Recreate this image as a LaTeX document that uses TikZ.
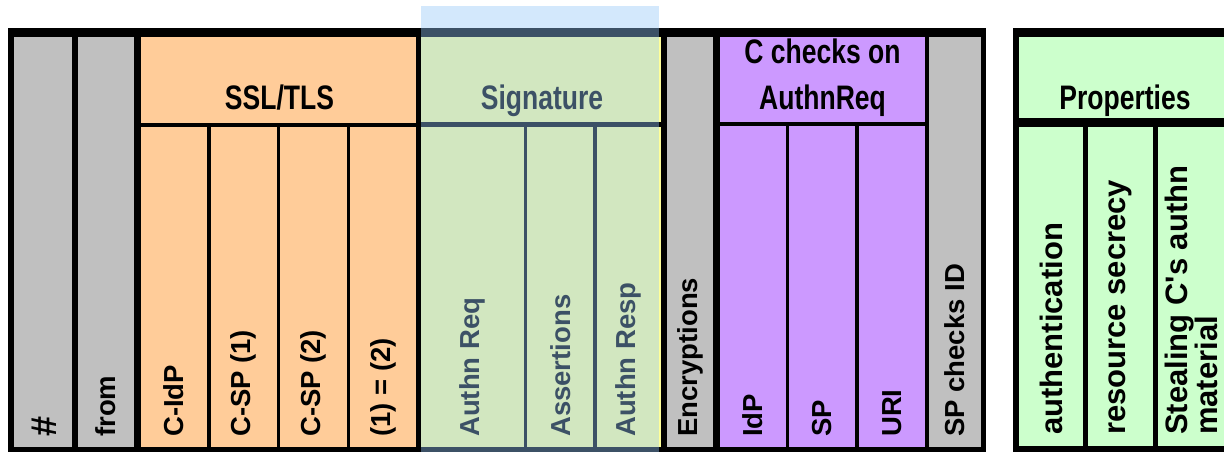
\documentclass[tikz,border=0pt]{standalone}
\usepackage{fontspec}
\setmainfont{Liberation Sans}
\newfontfamily\headfont[FakeStretch=0.78]{Liberation Sans}
\definecolor{cellgray}{RGB}{192,192,192}
\definecolor{sslorange}{RGB}{255,204,153}
\definecolor{sigyellow}{RGB}{255,255,153}
\definecolor{chkpurple}{RGB}{204,153,255}
\definecolor{propgreen}{RGB}{204,255,204}
\definecolor{selblue}{RGB}{148,199,248}
% a filled table cell: name, left, top, right, bottom, colour
\newcommand\tcell[6]{\node[cellbox, fill=#6, minimum width={#4-#2}, minimum height={#5-#3}] (#1) at (#2,#3) {};}
\begin{document}
\begin{tikzpicture}[x=1pt,y=-1pt,
  cellbox/.style={draw=none, inner sep=0pt, outer sep=0pt, anchor=north west},
  lab/.style={rotate=90, anchor=west, inner sep=0pt, font=\fontsize{27.5}{30}\selectfont\bfseries},
  plab/.style={lab, font=\fontsize{31}{25}\selectfont\bfseries},
  head/.style={anchor=base, inner sep=0pt, font=\headfont\fontsize{34}{40}\selectfont\bfseries}]
\useasboundingbox (0,0) rectangle (1224,452);

% black frames behind the cells: the gaps between cells form the rules
\tcell{frameA}{8.3}{28.3}{986.3}{452}{black}
\tcell{frameB}{1012.7}{28.3}{1224}{452}{black}

% left table
\tcell{hash}{14}{37.3}{72}{446.5}{cellgray}
\tcell{from}{78}{37.3}{134}{446.5}{cellgray}

\tcell{ssl}{141}{37.3}{415.5}{122.5}{sslorange}
\tcell{cidp}{141}{127}{207.3}{446.5}{sslorange}
\tcell{csp1}{210.7}{127}{277}{446.5}{sslorange}
\tcell{csp2}{280.3}{127}{347}{446.5}{sslorange}
\tcell{same}{350.3}{127}{415.5}{446.5}{sslorange}

\tcell{sig}{421}{37.3}{660.5}{122}{sigyellow}
\tcell{areq}{421}{126.7}{524}{446.5}{sigyellow}
\tcell{asrt}{527.3}{126.7}{593.3}{446.5}{sigyellow}
\tcell{aresp}{596.7}{126.7}{660.5}{446.5}{sigyellow}

\tcell{encr}{666.7}{37.3}{713.3}{446.5}{cellgray}

\tcell{chk}{720}{37.3}{925}{122}{chkpurple}
\tcell{idp}{720}{126}{786}{446.5}{chkpurple}
\tcell{sp}{789.3}{126}{855}{446.5}{chkpurple}
\tcell{uri}{859}{126}{925}{446.5}{chkpurple}

\tcell{spid}{929.3}{37.3}{980.7}{446.5}{cellgray}

% properties table
\tcell{prop}{1018.7}{37.3}{1224}{118.3}{propgreen}
\tcell{auth}{1018.7}{126.7}{1083.3}{446}{propgreen}
\tcell{secr}{1088.3}{126.7}{1152.7}{446}{propgreen}
\tcell{steal}{1158.3}{126.7}{1224}{446}{propgreen}

% group headers
\node[head] (hssl) at (279.5,110) {SSL/TLS};
\node[head] (hsig) at (542,110) {Signature};
\node[head] (hchka) at (822.5,63.3) {C checks on};
\node[head] (hchkb) at (822.5,110) {AuthnReq};
\node[head] (hprop) at (1125,110) {Properties};

% column labels, read bottom to top
\node[lab, font=\fontsize{36}{40}\selectfont\bfseries] (lhash) at ([yshift=9.5pt,xshift=1.5pt]hash.south) {\#};
\node[lab] (lfrom) at ([yshift=9.5pt]from.south) {from};
\node[lab] (lcidp) at ([yshift=9.5pt]cidp.south) {C-IdP};
\node[lab] (lcsp1) at ([yshift=9.5pt]csp1.south) {C-SP (1)};
\node[lab] (lcsp2) at ([yshift=9.5pt]csp2.south) {C-SP (2)};
\node[lab] (lsame) at ([yshift=9.5pt]same.south) {(1) = (2)};
\node[lab] (lareq) at ([yshift=9.5pt]areq.south) {Authn Req};
\node[lab] (lasrt) at ([yshift=9.5pt]asrt.south) {Assertions};
\node[lab] (laresp) at ([yshift=9.5pt]aresp.south) {Authn Resp};
\node[lab] (lencr) at ([yshift=9.5pt]encr.south) {Encryptions};
\node[lab] (lidp) at ([yshift=9.5pt]idp.south) {IdP};
\node[lab] (lsp) at ([yshift=9.5pt]sp.south) {SP};
\node[lab] (luri) at ([yshift=9.5pt]uri.south) {URI};
\node[lab] (lspid) at ([yshift=9.5pt]spid.south) {SP checks ID};
\node[plab] (lauth) at ([yshift=11pt]auth.south) {authentication};
\node[plab] (lsecr) at ([yshift=11pt]secr.south) {resource secrecy};
\node[plab, align=left] (lsteal) at ([yshift=11pt]steal.south) {Stealing C\textquotesingle s authn\\material};

% selection highlight over the signature group
\node[cellbox, fill=selblue, fill opacity=0.41, minimum width={659.3-421}, minimum height={452-5.7}] (selection) at (421,5.7) {};
\end{tikzpicture}
\end{document}
